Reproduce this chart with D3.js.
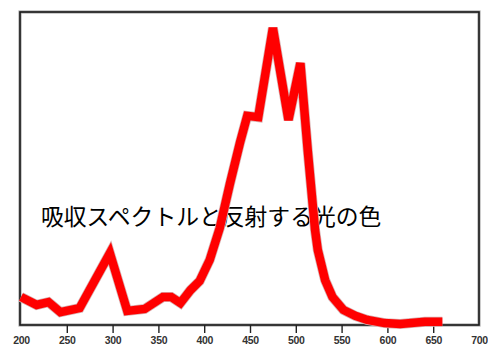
<!DOCTYPE html>
<html>
<head>
<meta charset="utf-8">
<script src="https://cdn.jsdelivr.net/npm/d3@7"></script>
<style>
  html, body { margin: 0; padding: 0; background: #fff; }
  svg { display: block; }
</style>
</head>
<body>
<svg id="chart" width="488" height="347"></svg>
<script>
// Wavelength (nm) and relative absorbance of the spectrum
const wavelengths = [200, 217, 230, 243, 264, 297, 316, 335, 355, 364, 374, 385, 395, 406, 417, 428, 439, 447, 459, 475, 492, 505, 513, 521, 524, 532, 540, 552, 565, 578, 597, 614, 641, 660];
const absorbance  = [0.089, 0.064, 0.073, 0.041, 0.054, 0.229, 0.045, 0.051, 0.089, 0.089, 0.070, 0.111, 0.140, 0.207, 0.309, 0.449, 0.580, 0.666, 0.662, 0.946, 0.653, 0.834, 0.557, 0.303, 0.239, 0.143, 0.089, 0.048, 0.029, 0.016, 0.006, 0.003, 0.010, 0.010];
const tickLabels  = [200, 250, 300, 350, 400, 450, 500, 550, 600, 650, 700];
const title = "吸収スペクトルと反射する光の色";

const svg = d3.select("#chart");
const frame = { left: 20, right: 479, top: 12, bottom: 325 };

const x = d3.scaleLinear().domain([200, 700]).range([21, 479]);
const y = d3.scaleLinear().domain([0, 1]).range([frame.bottom, 11]);

// Plot frame with a soft grey edge
svg.append("rect")
  .attr("x", frame.left).attr("y", frame.top)
  .attr("width", frame.right - frame.left).attr("height", frame.bottom - frame.top)
  .attr("fill", "none").attr("stroke", "#aaa").attr("stroke-width", 3.2);
svg.append("rect")
  .attr("x", frame.left).attr("y", frame.top)
  .attr("width", frame.right - frame.left).attr("height", frame.bottom - frame.top)
  .attr("fill", "none").attr("stroke", "#1a1a1a").attr("stroke-width", 1.6);

// Wavelength axis
const axis = svg.append("g")
  .attr("transform", `translate(0,${frame.bottom})`)
  .call(d3.axisBottom(x).tickValues(tickLabels).tickSize(8).tickPadding(4).tickFormat(d3.format("d")));
axis.select(".domain").remove();
axis.selectAll(".tick line")
  .attr("stroke", "#222").attr("stroke-width", 1.4)
  .filter(d => d === 200 || d === 700).remove();
axis.selectAll(".tick text")
  .attr("fill", "#333")
  .style("font-family", "'Liberation Sans', Arial, sans-serif")
  .style("font-size", "10.5px")
  .style("font-weight", "bold")
  .style("letter-spacing", "-0.3px");

// Caption
svg.append("text")
  .attr("x", 41).attr("y", 215)
  .attr("dominant-baseline", "central")
  .style("font-family", "'Noto Sans CJK JP', sans-serif")
  .style("font-size", "22.8px")
  .attr("fill", "#000")
  .text(title);

// Spectrum curve
const pts = wavelengths.map((w, i) => [w, absorbance[i]]);
const line = d3.line().x(d => x(d[0])).y(d => y(d[1]));
svg.append("path")
  .attr("d", line(pts))
  .attr("fill", "none")
  .attr("stroke", "#d9b0b0")
  .attr("stroke-width", 10)
  .attr("stroke-linejoin", "miter");
svg.append("path")
  .attr("d", line(pts))
  .attr("fill", "none")
  .attr("stroke", "#ff0000")
  .attr("stroke-width", 8.5)
  .attr("stroke-linejoin", "miter");
</script>
</body>
</html>
